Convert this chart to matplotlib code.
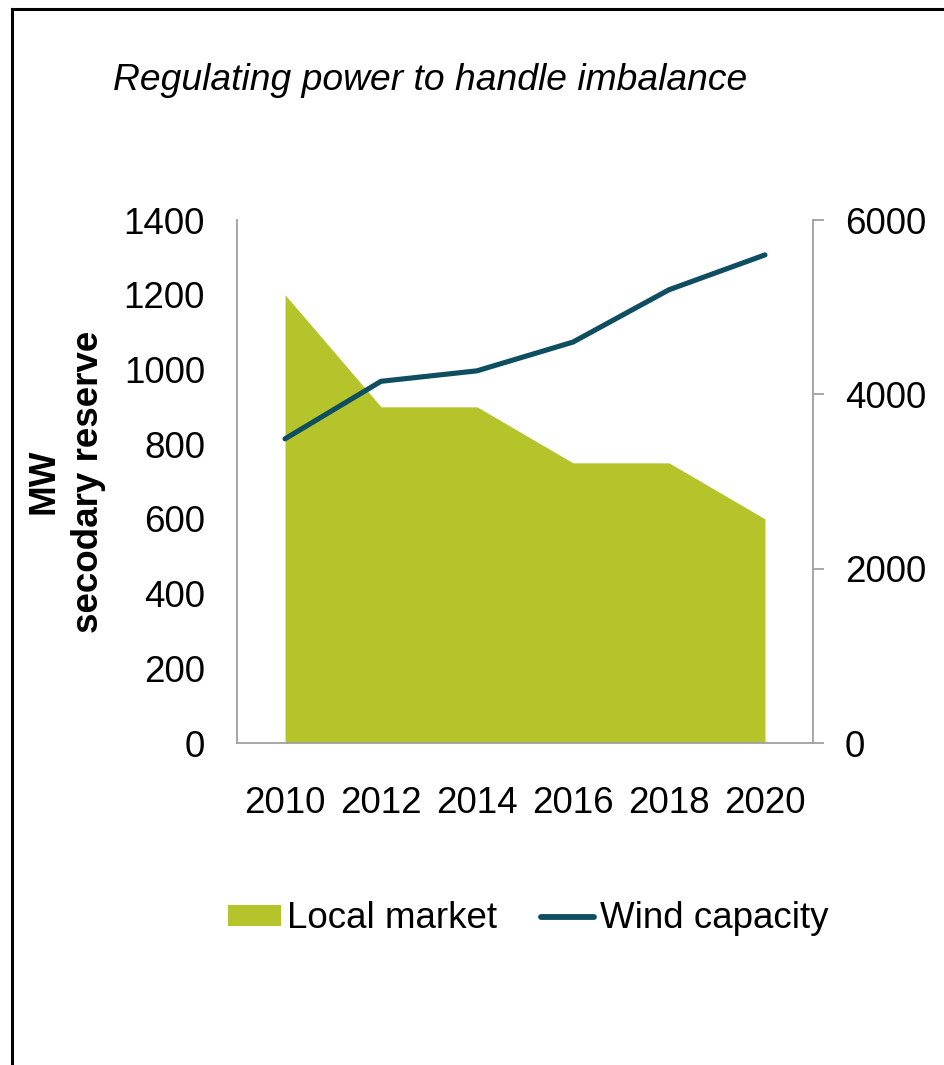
import numpy as np
import matplotlib
matplotlib.use("Agg")
import matplotlib.pyplot as plt
from matplotlib.patches import Patch
from matplotlib.lines import Line2D

plt.rcParams['font.family'] = ['Liberation Sans', 'DejaVu Sans']

years = ['2010', '2012', '2014', '2016', '2018', '2020']
local_market = [1200, 900, 900, 750, 750, 600]
wind_capacity = [3490, 4150, 4270, 4600, 5200, 5600]

green = '#B5C42B'
teal = '#0F4E61'
grey = '#A0A0A0'
fs = 26.5

fig = plt.figure(figsize=(9.44, 10.65), dpi=100)
ax = fig.add_axes([0.2511, 0.3023, 0.6101, 0.4911])
ax2 = ax.twinx()

x = np.arange(len(years))
ax.fill_between(x, local_market, 0, color=green, linewidth=0)
ax2.plot(x, wind_capacity, color=teal, linewidth=3.7, solid_capstyle='round',
         solid_joinstyle='miter')

ax.set_xlim(-0.5, len(years) - 0.5)
ax.set_ylim(0, 1400)
ax.set_yticks(np.arange(0, 1401, 200))
ax2.set_ylim(0, 6000)
ax2.set_yticks([0, 2000, 4000, 6000])
ax.set_xticks(x)
ax.set_xticklabels(years)

for a in (ax, ax2):
    a.spines['top'].set_visible(False)
    for s in ('left', 'right', 'bottom'):
        a.spines[s].set_color(grey)
        a.spines[s].set_linewidth(1.3)
ax.spines['right'].set_visible(False)
ax2.spines['left'].set_visible(False)
ax2.spines['bottom'].set_visible(False)

ax.tick_params(axis='y', length=0, pad=23, labelsize=fs)
ax.tick_params(axis='x', length=0, pad=31, labelsize=fs)
ax2.tick_params(axis='y', length=8, width=1.3, color=grey, pad=15, labelsize=fs)

ax.set_ylabel('MW\nsecodary reserve', fontsize=fs, fontweight='bold',
              linespacing=1.35, labelpad=13)

fig.text(113 / 944, 1 - 80 / 1065, 'Regulating power to handle imbalance',
         fontsize=26.8, style='italic', ha='left', va='center')

handles = [Patch(facecolor=green, edgecolor='none'),
           Line2D([], [], color=teal, linewidth=4.2, solid_capstyle='round')]
fig.legend(handles, ['Local market', 'Wind capacity'], ncol=2, frameon=False,
           fontsize=fs, loc='center', bbox_to_anchor=(528 / 944, 1 - 919 / 1065),
           handlelength=1.45, handleheight=0.52, handletextpad=0.15,
           columnspacing=1.2, borderpad=0, borderaxespad=0)

# frame around the slide (only top and left visible)
fig.add_artist(Line2D([12 / 944, 1.0], [1 - 9 / 1065, 1 - 9 / 1065],
                      transform=fig.transFigure, color='black', linewidth=2.2))
fig.add_artist(Line2D([12 / 944, 12 / 944], [1 - 9 / 1065, 0.0],
                      transform=fig.transFigure, color='black', linewidth=2.2))

fig.savefig('out.png', dpi=100)
